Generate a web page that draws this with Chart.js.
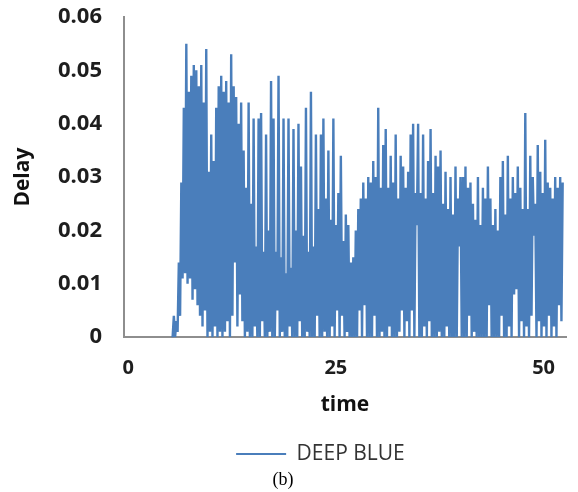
<!DOCTYPE html>
<html>
<head>
<meta charset="utf-8">
<script src="https://cdn.jsdelivr.net/npm/chart.js@4.4.0/dist/chart.umd.min.js"></script>
<style>
  html, body { margin: 0; padding: 0; background: #fff; }
  #wrap { width: 578px; height: 492px; }
</style>
</head>
<body>
<div id="wrap"><canvas id="chartDelay"></canvas></div>
<script>
// delay trace, one sample every 0.15 time units from t = 5.2
const seriesName = 'DEEP BLUE';
const timeStart = 5.2;
const timeStep = 0.15;
const delay = [
  0, 0, 0.004, 0, 0.003, 0.001, 0.014, 0.004, 0.029, 0.011,
  0.043, 0.012, 0.055, 0.010, 0.046, 0.011, 0.049, 0.007, 0.051, 0.009,
  0.050, 0.006, 0.047, 0.004, 0.051, 0.002, 0.044, 0.005, 0.054, 0.000,
  0.031, 0.001, 0.038, 0.000, 0.033, 0.002, 0.043, 0.000, 0.047, 0.001,
  0.049, 0.000, 0.046, 0.001, 0.048, 0.003, 0.044, 0.000, 0.053, 0.004,
  0.047, 0.014, 0.045, 0.002, 0.040, 0.008, 0.044, 0.003, 0.035, 0.000,
  0.028, 0.001, 0.044, 0.000, 0.025, 0.000, 0.041, 0.002, 0.017, 0.000,
  0.041, 0.000, 0.042, 0.003, 0.016, 0.000, 0.038, 0.000, 0.020, 0.001,
  0.048, 0.000, 0.041, 0.000, 0.016, 0.005, 0.049, 0.000, 0.015, 0.001,
  0.041, 0.000, 0.012, 0.000, 0.041, 0.002, 0.013, 0.000, 0.039, 0.000,
  0.020, 0.000, 0.040, 0.003, 0.032, 0.000, 0.019, 0.000, 0.043, 0.001,
  0.016, 0.000, 0.046, 0.000, 0.017, 0.000, 0.038, 0.004, 0.024, 0.000,
  0.038, 0.000, 0.041, 0.001, 0.026, 0.000, 0.035, 0.000, 0.022, 0.002,
  0.041, 0.000, 0.021, 0.005, 0.027, 0.000, 0.034, 0.004, 0.018, 0.000,
  0.023, 0.001, 0.021, 0.000, 0.014, 0.000, 0.015, 0.000, 0.020, 0.000,
  0.024, 0.005, 0.026, 0.000, 0.029, 0.006, 0.026, 0.000, 0.030, 0.000,
  0.029, 0.000, 0.033, 0.004, 0.030, 0.000, 0.043, 0.000, 0.028, 0.001,
  0.036, 0.000, 0.039, 0.000, 0.028, 0.002, 0.034, 0.000, 0.029, 0.000,
  0.038, 0.000, 0.026, 0.001, 0.034, 0.005, 0.032, 0.000, 0.028, 0.003,
  0.031, 0.000, 0.038, 0.005, 0.040, 0.000, 0.027, 0.021, 0.040, 0.000,
  0.027, 0.000, 0.038, 0.002, 0.026, 0.000, 0.033, 0.003, 0.039, 0.000,
  0.027, 0.000, 0.034, 0.000, 0.032, 0.001, 0.035, 0.000, 0.025, 0.000,
  0.031, 0.002, 0.024, 0.000, 0.030, 0.000, 0.023, 0.000, 0.032, 0.000,
  0.026, 0.017, 0.030, 0.000, 0.030, 0.000, 0.032, 0.000, 0.028, 0.004,
  0.029, 0.000, 0.025, 0.001, 0.022, 0.000, 0.030, 0.000, 0.021, 0.000,
  0.028, 0.000, 0.026, 0.000, 0.032, 0.006, 0.026, 0.000, 0.021, 0.000,
  0.024, 0.000, 0.020, 0.000, 0.030, 0.004, 0.033, 0.000, 0.023, 0.000,
  0.034, 0.002, 0.026, 0.000, 0.030, 0.008, 0.027, 0.009, 0.032, 0.000,
  0.028, 0.003, 0.024, 0.000, 0.042, 0.002, 0.024, 0.000, 0.034, 0.004,
  0.030, 0.019, 0.025, 0.000, 0.036, 0.003, 0.031, 0.000, 0.027, 0.002,
  0.037, 0.000, 0.029, 0.004, 0.028, 0.000, 0.026, 0.002, 0.030, 0.000,
  0.028, 0.006, 0.030, 0.003, 0.029
];
const xTicks = [0, 25, 50];
const yTicks = [0, 0.01, 0.02, 0.03, 0.04, 0.05, 0.06];
const yTickLabels = ['0', '0.01', '0.02', '0.03', '0.04', '0.05', '0.06'];

const lineBlue = '#4a7ebb';
const axisGrey = '#8e8e8e';
const textDark = '#1e1e1e';

function buildPoints() {
    return delay.map(function(d, i) {
        return { x: timeStart + i * timeStep, y: d };
    });
}

document.addEventListener('DOMContentLoaded', function() {
    const ctx = document.getElementById('chartDelay');
    new Chart(ctx, {
        type: 'line',
        data: {
            datasets: [{
                label: seriesName,
                data: buildPoints(),
                borderColor: lineBlue,
                backgroundColor: lineBlue,
                borderWidth: 2.4,
                pointRadius: 0,
                tension: 0,
                fill: false
            }]
        },
        options: {
            responsive: true,
            maintainAspectRatio: false,
            animation: false,
            devicePixelRatio: 1,
            layout: { padding: { top: 17, right: 12, left: 0, bottom: 1 } },
            plugins: {
                tooltip: { enabled: false },
                legend: {
                    position: 'bottom',
                    fullSize: false,
                    labels: {
                        boxWidth: 50,
                        boxHeight: 2,
                        padding: 24,
                        color: '#333',
                        font: { family: 'Open Sans', size: 21 },
                        generateLabels: function(chart) {
                            // trailing spaces pull the centred item left, as in the original
                            return Chart.defaults.plugins.legend.labels.generateLabels(chart).map(function(l) {
                                l.lineWidth = 0;
                                l.text = l.text + '         ';
                                return l;
                            });
                        }
                    }
                },
                subtitle: {
                    display: true,
                    text: '(b)',
                    position: 'bottom',
                    color: '#000',
                    font: { family: 'Liberation Serif', size: 18, weight: 'normal' },
                    padding: { top: -5, bottom: 0 }
                }
            },
            scales: {
                x: {
                    type: 'linear',
                    min: -0.5,
                    max: 52.7,
                    afterBuildTicks: function(scale) {
                        scale.ticks = xTicks.map(function(v) { return { value: v }; });
                    },
                    grid: { display: false, drawTicks: true, tickLength: 19 },
                    border: { display: true, color: axisGrey, width: 2 },
                    ticks: {
                        padding: 0,
                        color: textDark,
                        autoSkip: false,
                        maxRotation: 0,
                        font: { family: 'Open Sans', size: 20, weight: 'bold' }
                    },
                    title: {
                        display: true,
                        text: 'time',
                        color: '#111',
                        font: { family: 'Open Sans', size: 21, weight: 'bold' },
                        padding: { top: 12, bottom: 2 }
                    }
                },
                y: {
                    min: 0,
                    max: 0.06,
                    afterBuildTicks: function(scale) {
                        scale.ticks = yTicks.map(function(v) { return { value: v }; });
                    },
                    afterFit: function(scale) { scale.width = 124; },
                    grid: { display: false, drawTicks: true, tickLength: 22 },
                    border: { display: true, color: axisGrey, width: 2 },
                    ticks: {
                        padding: 0,
                        color: textDark,
                        font: { family: 'Open Sans', size: 22, weight: 'bold' },
                        callback: function(v) { return yTickLabels[yTicks.indexOf(v)]; }
                    },
                    title: {
                        display: true,
                        text: 'Delay',
                        color: '#111',
                        font: { family: 'Open Sans', size: 21, weight: 'bold' },
                        padding: { top: 10, bottom: 0 }
                    }
                }
            }
        }
    });
});
</script>
</body>
</html>
